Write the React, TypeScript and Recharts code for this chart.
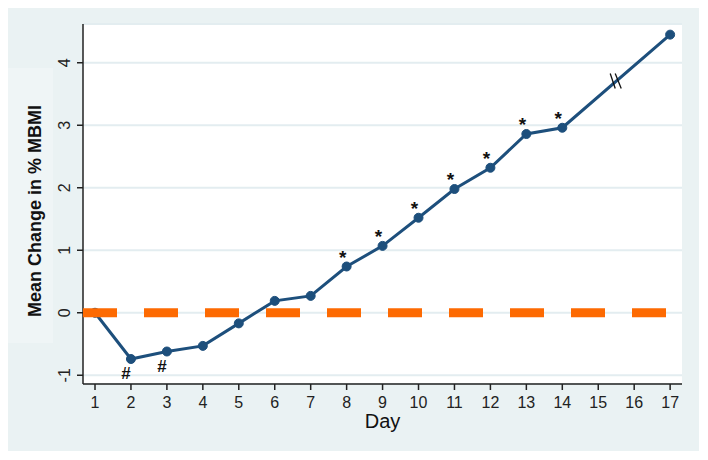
import {
  CartesianGrid,
  LabelList,
  Line,
  LineChart,
  ReferenceDot,
  ReferenceLine,
  XAxis,
  YAxis,
} from "recharts";

const days = [1, 2, 3, 4, 5, 6, 7, 8, 9, 10, 11, 12, 13, 14, 17];
const meanChange = [
  0, -0.74, -0.62, -0.53, -0.17, 0.19, 0.27, 0.74, 1.07, 1.52, 1.98, 2.32, 2.86,
  2.96, 4.45,
];
const marks = ["", "#", "#", "", "", "", "", "*", "*", "*", "*", "*", "*", "*", ""];
const dayTicks = [1, 2, 3, 4, 5, 6, 7, 8, 9, 10, 11, 12, 13, 14, 15, 16, 17];
const changeTicks = [-1, 0, 1, 2, 3, 4];
const breakMark = { day: 15.5, change: 3.7 };

const font = '"Liberation Sans", Arial, sans-serif';
const navy = "#1d4f7c";
const orange = "#fd6a02";

const data = days.map((d, i) => ({ day: d, change: meanChange[i], mark: marks[i] }));

function YTick(props: any) {
  const { x, y, payload } = props;
  return (
    <text
      x={x}
      y={y}
      transform={`rotate(-90, ${x}, ${y})`}
      textAnchor="middle"
      fontSize={16}
      fontFamily={font}
      fill="#222"
    >
      {payload.value}
    </text>
  );
}

function MarkLabel(props: any) {
  const { x, y, value } = props;
  if (!value) return null;
  if (value === "#") {
    return (
      <text x={x - 5} y={y + 20} textAnchor="middle" fontSize={17} fontWeight={700} fontFamily={font} fill="#111">
        #
      </text>
    );
  }
  return (
    <text x={x - 4} y={y - 3} textAnchor="middle" fontSize={19} fontWeight={700} fontFamily={font} fill="#111">
      *
    </text>
  );
}

function BreakShape(props: any) {
  const { cx, cy } = props;
  return (
    <g stroke="#111" strokeWidth={1.3}>
      <line x1={cx - 6} y1={cy - 8} x2={cx - 1} y2={cy + 7} />
      <line x1={cx - 1} y1={cy - 8} x2={cx + 5} y2={cy + 7} />
    </g>
  );
}

export default function App() {
  return (
    <div style={{ width: 691, height: 443, background: "#eaf2f3", position: "relative" }}>
      {/* slightly lighter band behind the y title, as in the original export */}
      <div
        style={{
          position: "absolute",
          left: 0,
          top: 60,
          width: 45,
          height: 275,
          background: "#eff5f6",
        }}
      />
      <div style={{ position: "absolute", left: 0, top: 0 }}>
        <LineChart
          width={691}
          height={443}
          data={data}
          margin={{ top: 16, right: 17, bottom: 0, left: 0 }}
        >
          <CartesianGrid horizontal vertical={false} stroke="#e3edf0" strokeWidth={2} fill="#ffffff" />
          <XAxis
            dataKey="day"
            type="number"
            domain={[0.666, 17.33]}
            ticks={dayTicks}
            allowDataOverflow
            height={67}
            stroke="#222"
            strokeWidth={1.5}
            tickSize={6}
            tickMargin={7}
            tick={{ fontSize: 16, fill: "#222", fontFamily: font }}
            label={({ viewBox }: any) => (
              <text
                x={viewBox.x + viewBox.width / 2}
                y={viewBox.y + 44}
                textAnchor="middle"
                fontSize={20}
                fontFamily={font}
                fill="#111"
              >
                Day
              </text>
            )}
          />
          <YAxis
            type="number"
            domain={[-1.14, 4.62]}
            ticks={changeTicks}
            allowDataOverflow
            width={75}
            stroke="#222"
            strokeWidth={1.5}
            tickSize={6}
            tickMargin={7}
            tick={<YTick />}
            label={({ viewBox }: any) => {
              const cx = 27;
              const cy = viewBox.y + viewBox.height / 2 + 7;
              return (
                <text
                  x={cx}
                  y={cy}
                  transform={`rotate(-90, ${cx}, ${cy})`}
                  textAnchor="middle"
                  dominantBaseline="central"
                  fontSize={18}
                  fontWeight={700}
                  fontFamily={font}
                  fill="#111"
                >
                  Mean Change in % MBMI
                </text>
              );
            }}
          />
          <Line
            dataKey="change"
            stroke={navy}
            strokeWidth={3}
            dot={{ r: 4.5, fill: navy, stroke: navy, strokeWidth: 1 }}
            activeDot={false}
            isAnimationActive={false}
          >
            <LabelList dataKey="mark" content={<MarkLabel />} />
          </Line>
          <ReferenceLine
            y={0}
            stroke={orange}
            strokeWidth={9}
            strokeDasharray="34 27"
            zIndex={900}
          />
          <ReferenceDot
            x={breakMark.day}
            y={breakMark.change}
            shape={<BreakShape />}
            zIndex={900}
          />
        </LineChart>
      </div>
    </div>
  );
}
